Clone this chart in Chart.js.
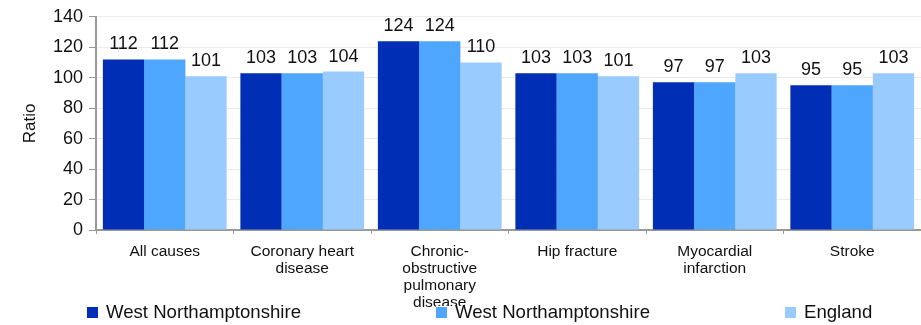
<!DOCTYPE html>
<html>
<head>
<meta charset="utf-8">
<script src="https://cdn.jsdelivr.net/npm/chart.js@4.4.1/dist/chart.umd.min.js"></script>
<style>
  html, body { margin: 0; padding: 0; background: #fff; }
  #wrap { width: 921px; height: 325px; position: relative; }
</style>
</head>
<body>
<div id="wrap"><canvas id="ratioChart"></canvas></div>
<script>
// Admission ratios by cause
const causes = [
  ["All causes"],
  ["Coronary heart", "disease"],
  ["Chronic-", "obstructive", "pulmonary", "disease"],
  ["Hip fracture"],
  ["Myocardial", "infarction"],
  ["Stroke"]
];
const seriesNames = ["West Northamptonshire", "West Northamptonshire", "England"];
const westNorthants = [112, 103, 124, 103, 97, 95];
const westNorthantsArea = [112, 103, 124, 103, 97, 95];
const england = [101, 104, 110, 101, 103, 103];
const seriesColours = ["#002eb4", "#4ea6fe", "#99cbfe"];
const yMax = 140;
const yStep = 20;

const FONT = "'Liberation Sans', Arial, sans-serif";

// value labels above each bar
const barValues = {
  id: "barValues",
  afterDatasetsDraw(chart) {
    const ctx = chart.ctx;
    ctx.save();
    ctx.font = "18px " + FONT;
    ctx.fillStyle = "#111";
    ctx.textAlign = "center";
    ctx.textBaseline = "alphabetic";
    chart.data.datasets.forEach((ds, i) => {
      chart.getDatasetMeta(i).data.forEach((bar, j) => {
        ctx.fillText(String(ds.data[j]), bar.x, bar.y - 10);
      });
    });
    ctx.restore();
  }
};

// legend row along the bottom, drawn over the long category label
const bottomLegend = {
  id: "bottomLegend",
  afterDraw(chart) {
    const ctx = chart.ctx;
    ctx.save();
    ctx.font = "18.6px " + FONT;
    ctx.textBaseline = "middle";
    ctx.textAlign = "left";
    chart.data.datasets.forEach((ds, i) => {
      const x = 87 + i * 349;
      const w = ctx.measureText(ds.label).width;
      ctx.fillStyle = "#fff";
      ctx.fillRect(x, 306, w + 22, 19);
      ctx.fillStyle = ds.backgroundColor;
      ctx.fillRect(x, 307, 11, 11);
      ctx.fillStyle = "#111";
      ctx.fillText(ds.label, x + 19, 313);
    });
    ctx.restore();
  }
};

const series = [westNorthants, westNorthantsArea, england];

new Chart(document.getElementById("ratioChart"), {
  type: "bar",
  data: {
    labels: causes,
    datasets: series.map((values, i) => ({
      label: seriesNames[i],
      data: values,
      backgroundColor: seriesColours[i],
      categoryPercentage: 0.9,
      barPercentage: 1.0
    }))
  },
  options: {
    responsive: true,
    maintainAspectRatio: false,
    animation: false,
    layout: { padding: { top: 13, left: 0, right: 0, bottom: 0 } },
    plugins: {
      legend: { display: false },
      tooltip: { enabled: false }
    },
    scales: {
      x: {
        afterFit(scale) { scale.height = 95; },
        grid: {
          display: true,
          drawOnChartArea: false,
          offset: true,
          tickLength: 4,
          tickColor: "#999"
        },
        border: { color: "#999", width: 2 },
        ticks: {
          color: "#111",
          font: { family: FONT, size: 15.5, lineHeight: 1.1 },
          padding: 9,
          maxRotation: 0,
          autoSkip: false
        }
      },
      y: {
        min: 0,
        max: yMax,
        afterFit(scale) { scale.width = 96; },
        grid: {
          color: "#ebebeb",
          tickColor: "#999",
          tickLength: 7
        },
        border: { color: "#999", width: 2 },
        ticks: {
          stepSize: yStep,
          color: "#111",
          font: { family: FONT, size: 18 },
          padding: 6
        },
        title: {
          display: true,
          text: "Ratio",
          color: "#111",
          font: { family: FONT, size: 17 },
          padding: { top: 20, bottom: 0 }
        }
      }
    }
  },
  plugins: [barValues, bottomLegend]
});
</script>
</body>
</html>
